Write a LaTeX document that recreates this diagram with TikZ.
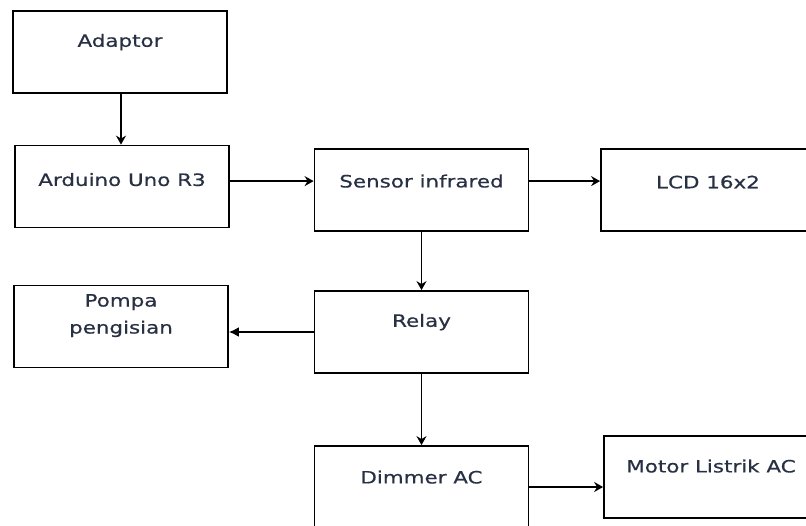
\documentclass[tikz,border=0pt]{standalone}
\usepackage{fontspec}
\newfontfamily\blockfont{DejaVu Sans}[FakeStretch=1.26, FakeBold=0.6]
\usetikzlibrary{calc,arrows.meta}
\definecolor{txtcol}{RGB}{40,48,68}

\begin{document}
\begin{tikzpicture}[x=1pt, y=-1pt,
    blk/.style={draw, line width=1.8pt, minimum width=214pt, minimum height=82pt, inner sep=0pt},
    txt/.style={text=txtcol, font=\blockfont\fontsize{17}{27}\selectfont, align=center, inner sep=0pt},
    arr/.style={line width=1.7pt, -{Stealth[length=9pt, width=10pt, inset=3pt]}},
    arrf/.style={line width=1.7pt, -{Latex[length=10pt, width=10pt]}}]

    \clip (0,0) rectangle (806,525);

    % --- Blokkok ---
    \node[blk] (adaptor) at (120,52) {};
    \node[txt] (adaptor-t) at ([yshift=-32pt]adaptor.north) {Adaptor};

    \node[blk] (arduino) at (122,186.5) {};
    \node[txt] (arduino-t) at ([yshift=-35pt]arduino.north) {Arduino Uno R3};

    \node[blk] (sensor) at (421.5,190) {};
    \node[txt] (sensor-t) at ([yshift=-33pt]sensor.north) {Sensor infrared};

    \node[blk] (lcd) at (708,190) {};
    \node[txt] (lcd-t) at ([yshift=-34pt]lcd.north) {LCD 16x2};

    \node[blk] (pompa) at (121,326.5) {};
    \node[txt] (pompa-t) at ([yshift=-31pt]pompa.north) {Pompa\\pengisian};

    \node[blk] (relay) at (421.5,332) {};
    \node[txt] (relay-t) at ([yshift=-32pt]relay.north) {Relay};

    \node[blk] (dimmer) at (421.5,487) {};
    \node[txt] (dimmer-t) at ([yshift=-32pt]dimmer.north) {Dimmer AC};

    \node[blk] (motor) at (711,477) {};
    \node[txt] (motor-t) at ([yshift=-31pt]motor.north) {Motor Listrik AC};

    % --- Nyilak ---
    \draw[arr] ([xshift=1pt]adaptor.south) -- ([xshift=1pt]adaptor.south |- arduino.north);
    \draw[arr] (arduino.east |- sensor-t) -- (sensor.west |- sensor-t);
    \draw[arr] (sensor.east |- sensor-t) -- (lcd.west |- sensor-t);
    \draw[arr] (sensor) -- (relay);
    \draw[arrf] (relay.west) -- (pompa.east |- relay.west);
    \draw[arr] (relay) -- (dimmer);
    \draw[arr] (dimmer.east) -- (motor.west |- dimmer.east);

\end{tikzpicture}
\end{document}
